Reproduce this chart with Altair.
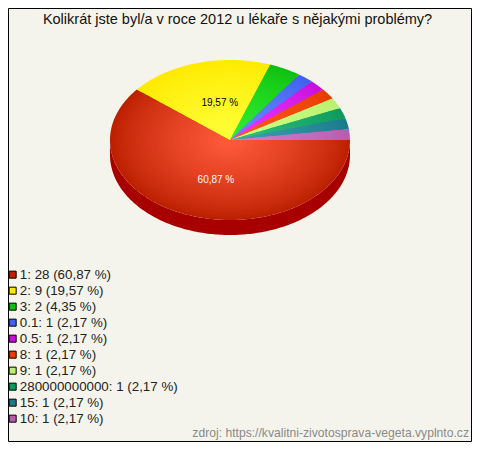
import math
import altair as alt
import pandas as pd

TITLE = "Kolikrát jste byl/a v roce 2012 u lékaře s nějakými problémy?"
SOURCE = "zdroj: https://kvalitni-zivotosprava-vegeta.vyplnto.cz"
categories = ["1", "2", "3", "0.1", "0.5", "8", "9", "280000000000", "15", "10"]
counts = [28, 9, 2, 1, 1, 1, 1, 1, 1, 1]
percent_text = ["60,87", "19,57", "4,35", "2,17", "2,17", "2,17", "2,17", "2,17", "2,17", "2,17"]
edge_colors = ["#bc2000", "#ffea00", "#10c010", "#4060f0", "#c810dc", "#e83c00", "#bcf070", "#0c9a5c", "#1a7a8c", "#b85cb0"]
centre_colors = ["#ff5a3c", "#ffff38", "#30f030", "#6a8cff", "#ee38ff", "#ff5c1c", "#ccff88", "#30c080", "#40a0b0", "#d080d0"]
side_color = "#a80000"
BG = "#f5f4ec"

W, H = 463, 433
CX, CY, RX, RY, DEPTH = 222, 132, 120, 80, 15
RINGS = 36


def rgb(h):
    return [int(h[i:i + 2], 16) for i in (1, 3, 5)]


def mix(a, b, t):
    ca, cb = rgb(a), rgb(b)
    return "#%02x%02x%02x" % tuple(round(x + (y - x) * t) for x, y in zip(ca, cb))


total = sum(counts)
starts, acc = [], 0
for c in counts:
    starts.append(acc / total * 2 * math.pi)
    acc += c

rows = []
side_rows = []
pid = 0
for k in range(RINGS):
    frac = 1 - k / RINGS
    for i, c in enumerate(counts):
        a0 = starts[i]
        a1 = a0 + c / total * 2 * math.pi
        n = max(3, int((a1 - a0) * 60))
        hexcol = mix(edge_colors[i], centre_colors[i], (k / (RINGS - 1)) ** 0.8)
        pts = [(CX, CY)]
        for j in range(n + 1):
            a = a0 + (a1 - a0) * j / n
            pts.append((CX + RX * frac * math.cos(a), CY + RY * frac * math.sin(a)))
        for o, (x, y) in enumerate(pts):
            rows.append({"poly": pid, "o": o, "x": x, "y": y, "c": hexcol})
        pid += 1

# visible side wall: the part of each slice on the front half
for i, c in enumerate(counts):
    a0 = starts[i]
    a1 = min(a0 + c / total * 2 * math.pi, math.pi)
    if a0 >= math.pi:
        continue
    n = max(3, int((a1 - a0) * 60))
    arc = [a0 + (a1 - a0) * j / n for j in range(n + 1)]
    pts = [(CX + RX * math.cos(a), CY + RY * math.sin(a)) for a in arc]
    pts += [(CX + RX * math.cos(a), CY + RY * math.sin(a) + DEPTH) for a in reversed(arc)]
    for o, (x, y) in enumerate(pts):
        side_rows.append({"poly": i, "o": o, "x": x, "y": y})

x_scale = alt.Scale(domain=[0, W], nice=False, zero=False)
y_scale = alt.Scale(domain=[H, 0], nice=False, zero=False)
X = alt.X("x:Q", scale=x_scale, axis=None)
Y = alt.Y("y:Q", scale=y_scale, axis=None)

side = alt.Chart(pd.DataFrame(side_rows)).mark_line(
    interpolate="linear-closed", filled=True, color=side_color, strokeWidth=0
).encode(x=X, y=Y, detail="poly:N", order="o:Q")

top = alt.Chart(pd.DataFrame(rows)).mark_line(
    interpolate="linear-closed", filled=True, strokeWidth=0
).encode(
    x=X, y=Y, detail="poly:N", order="o:Q",
    fill=alt.Fill("c:N", scale=None, legend=None),
)

# percentage labels of the two large slices
lab_rows = []
for i, (c, colr) in enumerate(zip(counts[:2], ["#ffffff", "#000000"])):
    mid = starts[i] + c / total * math.pi
    lab_rows.append({
        "x": CX + 0.5 * RX * math.cos(mid), "y": CY + 0.5 * RY * math.sin(mid),
        "t": percent_text[i] + " %", "col": colr,
    })
labels = alt.Chart(pd.DataFrame(lab_rows)).mark_text(
    font="Liberation Sans", fontSize=10, dx=6, dy=2, baseline="middle"
).encode(x=X, y=Y, text="t:N", color=alt.Color("col:N", scale=None, legend=None))

legend_labels = [f"{a}: {b} ({p} %)" for a, b, p in zip(categories, counts, percent_text)]
legend_df = pd.DataFrame({"label": legend_labels})
legend_layer = alt.Chart(legend_df).mark_square(opacity=0).encode(
    x=alt.value(-50), y=alt.value(-50),
    stroke=alt.Stroke(
        "label:N", sort=None,
        scale=alt.Scale(domain=legend_labels, range=edge_colors),
        legend=None,
    ),
    fill=alt.Fill(
        "label:N", sort=None,
        scale=alt.Scale(domain=legend_labels, range=edge_colors),
        legend=alt.Legend(
            orient="none", legendX=-2, legendY=260, title=None, padding=0,
            symbolType="square", symbolSize=49, symbolStrokeColor="#000000",
            symbolStrokeWidth=1, symbolOpacity=1, labelFont="Liberation Sans",
            labelFontSize=13.33, labelColor="#222222", labelLimit=400,
            rowPadding=2, labelOffset=0.5,
        ),
    ),
)


def text_layer(txt, px, py, size, color, align):
    return alt.Chart(pd.DataFrame({"t": [txt]})).mark_text(
        font="Liberation Sans", fontSize=size, color=color, align=align, baseline="middle"
    ).encode(text="t:N", x=alt.value(px), y=alt.value(py))


title_layer = text_layer(TITLE, 229.5, 12, 14.5, "#111111", "center")
source_layer = text_layer(SOURCE, 461, 425, 12.15, "#8a8a8a", "right")

chart = alt.layer(side, top, labels, legend_layer, title_layer, source_layer).resolve_scale(
    fill="independent"
).properties(
    width=W, height=H, background=BG,
    padding={"left": 0, "top": 0, "right": 1, "bottom": 1},
    autosize=alt.AutoSizeParams(type="none"),
).configure_view(stroke="#000000", strokeWidth=1)

chart.save("out.html", embed_options={"renderer": "svg", "actions": False})
